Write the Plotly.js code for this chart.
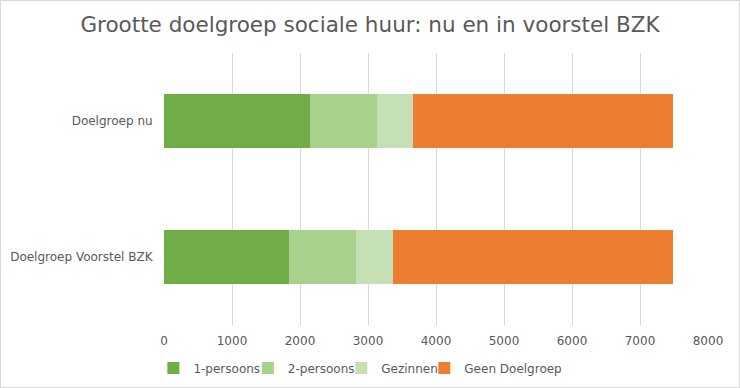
<!DOCTYPE html>
<html>
<head>
<meta charset="utf-8">
<script src="https://cdn.plot.ly/plotly-3.0.1.min.js"></script>
<style>
html,body{margin:0;padding:0;background:#fff;}
#chart{width:738px;height:386px;border:1px solid #d9d9d9;}
</style>
</head>
<body>
<div id="chart"></div>
<script>
const categories = ["Doelgroep nu", "Doelgroep Voorstel BZK"];
const seriesNames = ["1-persoons", "2-persoons", "Gezinnen", "Geen Doelgroep"];
const eenPersoons = [2143, 1834];
const tweePersoons = [985, 985];
const gezinnen = [529, 544];
const geenDoelgroep = [3824, 4118];
const xTicks = [0, 1000, 2000, 3000, 4000, 5000, 6000, 7000, 8000];
const colors = ["#70AD47", "#A9D18E", "#C5E0B4", "#ED7D31"];

const values = [eenPersoons, tweePersoons, gezinnen, geenDoelgroep];
const legendIds = ["legend", "legend2", "legend3", "legend4"];
const legendX = [0.2065, 0.3345, 0.4611, 0.5736];
const traces = values.map((v, i) => ({
  type: "bar",
  orientation: "h",
  name: seriesNames[i],
  x: v,
  y: categories,
  marker: {color: colors[i], line: {width: 0}},
  legend: legendIds[i],
  hoverinfo: "x+name"
}));

const font = "'DejaVu Sans', Verdana, sans-serif";
const legendFont = {family: font, size: 12, color: "#595959"};
const layout = {
  width: 738,
  height: 386,
  barmode: "stack",
  bargap: 0.6,
  paper_bgcolor: "#ffffff",
  plot_bgcolor: "#ffffff",
  margin: {l: 163, r: 31, t: 52, b: 62, pad: 0},
  font: {family: font, size: 12, color: "#595959"},
  title: {
    text: "Grootte doelgroep sociale huur: nu en in voorstel BZK",
    font: {family: font, size: 21.5, color: "#595959"},
    x: 0.5, xanchor: "center", y: 0.94, yanchor: "middle"
  },
  xaxis: {
    range: [0, 8000],
    tickvals: xTicks,
    ticktext: xTicks.map(String),
    showgrid: true,
    gridcolor: "#d9d9d9",
    gridwidth: 1,
    zeroline: false,
    showline: false,
    ticks: "outside",
    ticklen: 5,
    tickcolor: "rgba(0,0,0,0)",
    tickfont: {family: font, size: 12, color: "#595959"},
    fixedrange: true
  },
  yaxis: {
    type: "category",
    autorange: "reversed",
    showgrid: false,
    zeroline: false,
    showline: false,
    ticks: "outside",
    ticklen: 8,
    tickcolor: "rgba(0,0,0,0)",
    tickfont: {family: font, size: 12, color: "#595959"},
    fixedrange: true
  },
  showlegend: true
};
legendIds.forEach((id, i) => {
  layout[id] = {
    orientation: "h",
    xref: "container",
    yref: "container",
    x: legendX[i], xanchor: "left",
    y: 0.049, yanchor: "middle",
    bgcolor: "rgba(0,0,0,0)",
    font: legendFont,
    itemwidth: 30
  };
});

Plotly.newPlot("chart", traces, layout, {displayModeBar: false, staticPlot: true});
</script>
</body>
</html>
